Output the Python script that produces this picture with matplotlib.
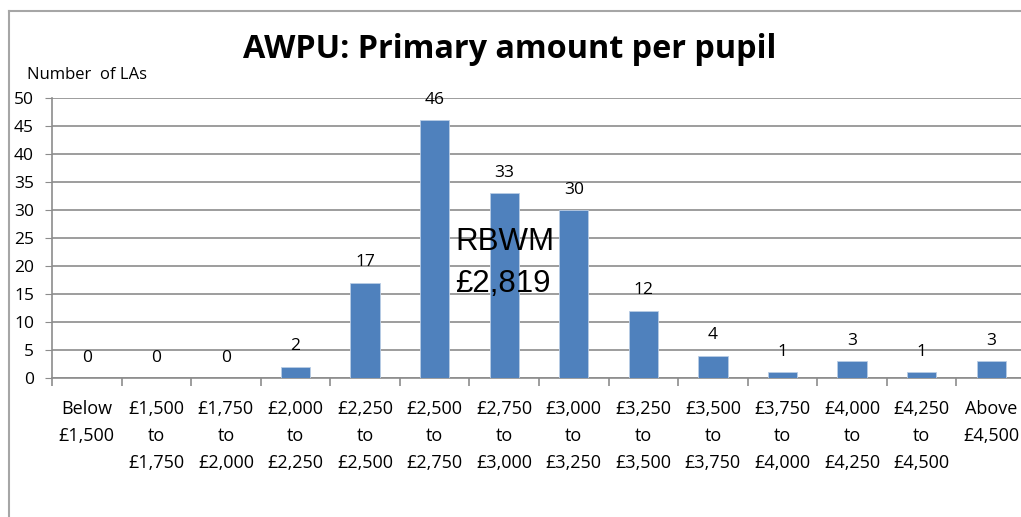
import matplotlib
matplotlib.use("Agg")
import matplotlib.pyplot as plt
from matplotlib.lines import Line2D

# data
categories = ["Below\n£1,500", "£1,500\nto\n£1,750", "£1,750\nto\n£2,000", "£2,000\nto\n£2,250",
              "£2,250\nto\n£2,500", "£2,500\nto\n£2,750", "£2,750\nto\n£3,000", "£3,000\nto\n£3,250",
              "£3,250\nto\n£3,500", "£3,500\nto\n£3,750", "£3,750\nto\n£4,000", "£4,000\nto\n£4,250",
              "£4,250\nto\n£4,500", "Above\n£4,500"]
num_las = [0, 0, 0, 2, 17, 46, 33, 30, 12, 4, 1, 3, 1, 3]
y_ticks = [0, 5, 10, 15, 20, 25, 30, 35, 40, 45, 50]

bar_color = "#4F81BD"
grid_color = "#8C8C8C"
font = "Open Sans"

fig = plt.figure(figsize=(10.21, 5.17), dpi=100)
ax = fig.add_axes([52 / 1021, 139 / 517, 974 / 1021, 280 / 517])

xs = list(range(len(categories)))
ax.bar(xs, num_las, width=0.42, color=bar_color, edgecolor="#B9CDE5", linewidth=0.6, zorder=3)

for x, v in zip(xs, num_las):
    ax.annotate(str(v), (x, v), xytext=(0, 9), textcoords="offset points",
                ha="center", va="bottom", fontsize=12.5, family=font)

ax.set_xlim(-0.5, len(categories) - 0.5)
ax.set_ylim(0, 50)
ax.set_yticks(y_ticks)
ax.set_yticklabels([str(t) for t in y_ticks], fontsize=12.5, family=font)
ax.yaxis.grid(True, color=grid_color, linewidth=1.2, zorder=0)
ax.tick_params(axis="y", length=5, color=grid_color, pad=8)

ax.set_xticks(xs)
ax.set_xticklabels(categories, fontsize=13, family=font, linespacing=1.65)
ax.set_xticks([x - 0.5 for x in xs] + [len(categories) - 0.5], minor=True)
ax.tick_params(axis="x", which="major", length=0, pad=16)
ax.tick_params(axis="x", which="minor", length=6, color=grid_color, width=1.2)

for side in ["top", "right"]:
    ax.spines[side].set_visible(False)
for side in ["left", "bottom"]:
    ax.spines[side].set_color(grid_color)
    ax.spines[side].set_linewidth(1.2)

fig.text(510 / 1021, 1 - 49 / 517, "AWPU: Primary amount per pupil", ha="center", va="center",
         fontsize=23.3, fontweight="bold", family=font)
fig.text(27 / 1021, 1 - 75 / 517, "Number  of LAs", ha="left", va="center", fontsize=12, family=font)

ax.text(455 / 1021, 1 - 263 / 517, "RBWM\n£2,819", transform=fig.transFigure, ha="left", va="center",
        fontsize=22.5, family="Liberation Sans", linespacing=1.52, zorder=5)

# chart frame (cropped at right and bottom)
frame_kw = dict(color="#A6A6A6", linewidth=1.5, transform=fig.transFigure)
fig.add_artist(Line2D([9 / 1021, 9 / 1021], [0, 1 - 11 / 517], **frame_kw))
fig.add_artist(Line2D([9 / 1021, 1], [1 - 11 / 517, 1 - 11 / 517], **frame_kw))

fig.savefig("out.png", dpi=100)
